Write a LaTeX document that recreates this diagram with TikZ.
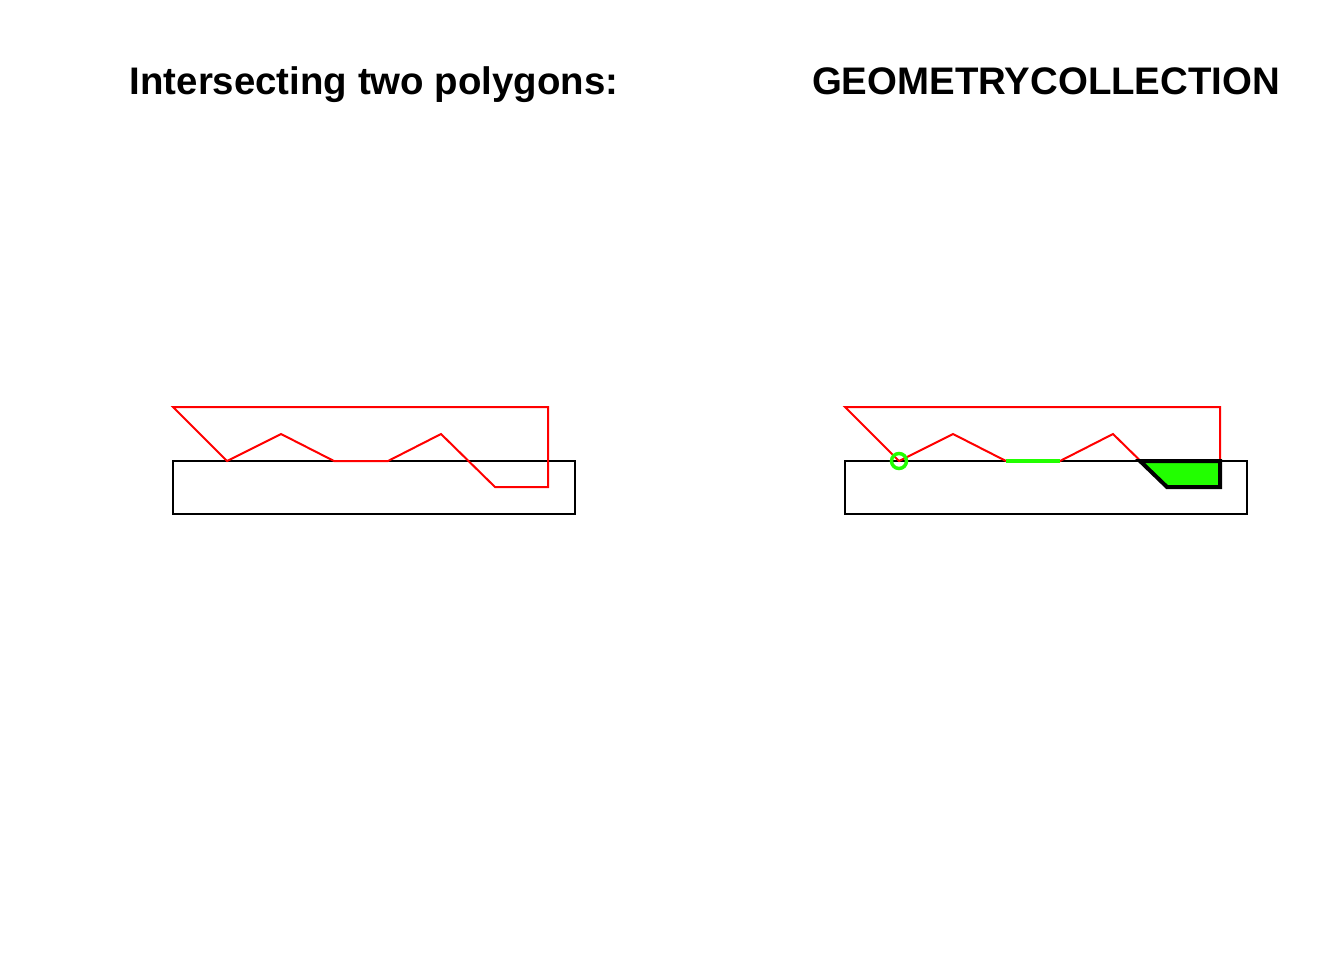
\documentclass[tikz,border=0pt]{standalone}
\usepackage{fontspec}
\setmainfont{Liberation Sans}
\usepackage{tikz}
\usetikzlibrary{calc}
\definecolor{plotgreen}{RGB}{34,255,0}

\begin{document}
\begin{tikzpicture}[x=0.75pt,y=-0.75pt]
\useasboundingbox (0,0) rectangle (1344,960);
\tikzset{
  titletext/.style={anchor=base,font=\bfseries\fontsize{28.8}{34}\selectfont},
  redpoly/.style={red,line width=1.5pt,line join=miter},
  boxline/.style={black,line width=1.5pt}
}
% left panel
\node[titletext] (lefttitle) at (374,94) {Intersecting two polygons:};
\draw[boxline] (173,461) rectangle (575,514);
\draw[redpoly] (173,407)--(227,461)--(281,434)--(334,461)--(388,461)--(441,434)
  --(495,487)--(548,487)--(548,407)--cycle;
% right panel
\node[titletext] (righttitle) at (1046,94) {GEOMETRYCOLLECTION};
\draw[boxline] (845,461) rectangle (1247,514);
\draw[redpoly] (845,407)--(899,461)--(953,434)--(1006,461)--(1060,461)--(1113,434)
  --(1167,487)--(1220,487)--(1220,407)--cycle;
\draw[plotgreen,line width=3pt] (1006,461)--(1060,461);
\filldraw[fill=plotgreen,draw=black,line width=3pt,line join=miter]
  (1140,461)--(1167,487)--(1220,487)--(1220,461)--cycle;
\draw[plotgreen,line width=2.6pt] (899,461) circle (7.5);
\end{tikzpicture}
\end{document}
